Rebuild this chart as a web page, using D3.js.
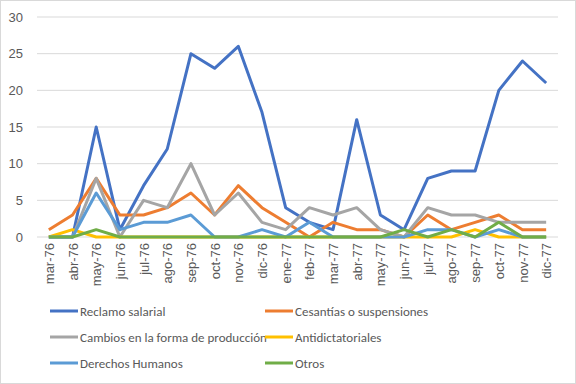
<!DOCTYPE html>
<html>
<head>
<meta charset="utf-8">
<script src="https://cdn.jsdelivr.net/npm/d3@7"></script>
<style>
  body { margin: 0; background: #fff; }
  svg { display: block; font-family: Carlito, Calibri, "Liberation Sans", sans-serif; }
</style>
</head>
<body>
<div id="chart"></div>
<script>
// months and series
var months = ['mar-76', 'abr-76', 'may-76', 'jun-76', 'jul-76', 'ago-76', 'sep-76', 'oct-76',
  'nov-76', 'dic-76', 'ene-77', 'feb-77', 'mar-77', 'abr-77', 'may-77', 'jun-77', 'jul-77',
  'ago-77', 'sep-77', 'oct-77', 'nov-77', 'dic-77'];

var names = ['Reclamo salarial', 'Cesantías o suspensiones', 'Cambios en la forma de producción',
  'Antidictatoriales', 'Derechos Humanos', 'Otros'];
var colors = ['#4472C4', '#ED7D31', '#A5A5A5', '#FFC000', '#5B9BD5', '#70AD47'];

var reclamo = [0, 0, 15, 1, 7, 12, 25, 23, 26, 17, 4, 2, 1, 16, 3, 1, 8, 9, 9, 20, 24, 21];
var cesantias = [1, 3, 8, 3, 3, 4, 6, 3, 7, 4, 2, 0, 2, 1, 1, 0, 3, 1, 2, 3, 1, 1];
var cambios = [0, 0, 8, 0, 5, 4, 10, 3, 6, 2, 1, 4, 3, 4, 1, 0, 4, 3, 3, 2, 2, 2];
var antidict = [0, 1, 0, 0, 0, 0, 0, 0, 0, 0, 0, 0, 0, 0, 0, 0, 0, 0, 1, 0, 0, 0];
var derechos = [0, 0, 6, 1, 2, 2, 3, 0, 0, 1, 0, 2, 0, 0, 0, 0, 1, 1, 0, 1, 0, 0];
var otros = [0, 0, 1, 0, 0, 0, 0, 0, 0, 0, 0, 0, 0, 0, 0, 1, 0, 1, 0, 2, 0, 0];
var yTicks = [0, 5, 10, 15, 20, 25, 30];

var series = [reclamo, cesantias, cambios, antidict, derechos, otros];

var W = 576, H = 384;
var margin = { top: 17, right: 18, bottom: 147, left: 37 };
var width = W - margin.left - margin.right,
  height = H - margin.top - margin.bottom;

var svg = d3.select('#chart').append('svg').attr('width', W).attr('height', H);

// outer frame
svg.append('rect')
  .attr('x', 0.5).attr('y', 0.5)
  .attr('width', W - 1).attr('height', H - 1)
  .attr('fill', '#fff').attr('stroke', '#d9d9d9');

var g = svg.append('g').attr('transform', 'translate(' + margin.left + ',' + margin.top + ')');

var x = d3.scalePoint().domain(months).range([0, width]).padding(0.5);
var y = d3.scaleLinear().domain([0, 30]).range([height, 0]);

// gridlines
g.selectAll('line.grid').data(yTicks).enter().append('line')
  .attr('class', 'grid')
  .attr('x1', 0).attr('x2', width)
  .attr('y1', d => y(d)).attr('y2', d => y(d))
  .attr('stroke', '#d9d9d9').attr('stroke-width', 1);

// y axis labels
var yAxis = g.append('g').call(d3.axisLeft(y).tickValues(yTicks).tickSize(0).tickPadding(14));
yAxis.select('.domain').remove();
yAxis.selectAll('text').attr('fill', '#595959').style('font-size', '13px');

// x axis labels, rotated
var xAxis = g.append('g').attr('transform', 'translate(0,' + height + ')')
  .call(d3.axisBottom(x).tickSize(0));
xAxis.select('.domain').remove();
xAxis.selectAll('text')
  .attr('fill', '#595959').style('font-size', '13px')
  .attr('transform', 'rotate(-90)')
  .attr('x', -6).attr('y', 0).attr('dy', '0.35em')
  .attr('text-anchor', 'end');

var line = d3.line().x((d, i) => x(months[i])).y(d => y(d));

g.selectAll('path.series').data(series).enter().append('path')
  .attr('class', 'series')
  .attr('d', d => line(d))
  .attr('fill', 'none')
  .attr('stroke', (d, i) => colors[i])
  .attr('stroke-width', 3)
  .attr('stroke-linejoin', 'round');

// legend, two columns
var legend = svg.append('g');
var items = legend.selectAll('g').data(names).enter().append('g')
  .attr('transform', (d, i) => 'translate(' + (i % 2 ? 265 : 50) + ',' + (311 + Math.floor(i / 2) * 26) + ')');
items.append('line')
  .attr('x1', 0).attr('x2', 28)
  .attr('stroke', (d, i) => colors[i]).attr('stroke-width', 3);
items.append('text')
  .attr('x', 30).attr('dy', '0.35em')
  .attr('fill', '#595959').style('font-size', '13px')
  .text(d => d);
</script>
</body>
</html>
